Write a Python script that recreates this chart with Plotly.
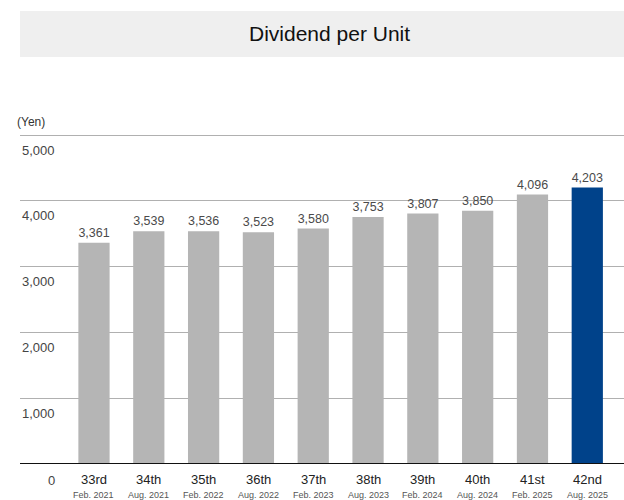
import plotly.graph_objects as go

periods = ["33rd", "34th", "35th", "36th", "37th", "38th", "39th", "40th", "41st", "42nd"]
dates = ["Feb. 2021", "Aug. 2021", "Feb. 2022", "Aug. 2022", "Feb. 2023",
         "Aug. 2023", "Feb. 2024", "Aug. 2024", "Feb. 2025", "Aug. 2025"]
dividends = [3361, 3539, 3536, 3523, 3580, 3753, 3807, 3850, 4096, 4203]
y_ticks = [0, 1000, 2000, 3000, 4000, 5000]

FONT = "Helvetica, 'Liberation Sans', Arial, sans-serif"
colors = ["#b5b5b5"] * (len(periods) - 1) + ["#00428a"]

fig = go.Figure()
fig.add_trace(go.Bar(
    x=periods, y=dividends,
    marker=dict(color=colors, line=dict(width=0)),
    text=[f"{v:,}" for v in dividends],
    textposition="outside",
    textfont=dict(size=13, color="#4a4a4a", family=FONT),
    cliponaxis=False,
    width=0.57,
    hoverinfo="skip",
))

annotations = []
# y tick labels placed below gridlines
for t in y_ticks:
    annotations.append(dict(
        x=0.0613, xref="paper", y=t, yref="y",
        text=f"{t:,}", showarrow=False, xanchor="right", yanchor="middle",
        yshift=-15 if t else -16,
        font=dict(size=13, color="#444444", family=FONT),
    ))
# category labels
for p, d in zip(periods, dates):
    annotations.append(dict(
        x=p, xref="x", y=0, yref="paper", yshift=-15,
        text=p, showarrow=False, xanchor="center", yanchor="middle",
        font=dict(size=13, color="#222222", family=FONT),
    ))
    annotations.append(dict(
        x=p, xref="x", y=0, yref="paper", yshift=-31,
        text=d, showarrow=False, xanchor="center", yanchor="middle",
        font=dict(size=9, color="#555555", family=FONT),
    ))
annotations.append(dict(
    x=-0.008, xref="paper", y=0.914, yref="paper",
    text="(Yen)", showarrow=False, xanchor="left", yanchor="middle",
    font=dict(size=12, color="#333333", family=FONT),
))
annotations.append(dict(
    x=0.513, xref="paper", y=1.15, yref="paper",
    text="Dividend per Unit", showarrow=False, xanchor="center", yanchor="middle",
    font=dict(size=21, color="#111111", family=FONT),
))

shapes = [
    dict(type="rect", xref="paper", yref="paper", x0=0, x1=1, y0=1.088, y1=1.211,
         fillcolor="#efefef", line=dict(width=0), layer="below"),
    dict(type="line", xref="paper", yref="y", x0=0, x1=1, y0=0, y1=0,
         line=dict(color="#111111", width=2)),
]

fig.update_layout(
    width=624, height=500,
    margin=dict(l=20, r=0, t=90, b=36),
    paper_bgcolor="white", plot_bgcolor="white",
    showlegend=False,
    annotations=annotations,
    shapes=shapes,
    font=dict(family=FONT),
    xaxis=dict(range=[-1.35, 9.67], showticklabels=False, showgrid=False,
               zeroline=False, showline=False, ticks=""),
    yaxis=dict(range=[0, 5684], tickvals=y_ticks, showticklabels=False,
               showgrid=True, gridcolor="#b0b0b0", gridwidth=1,
               zeroline=False, showline=False, ticks=""),
)

fig.write_html("out.html")
